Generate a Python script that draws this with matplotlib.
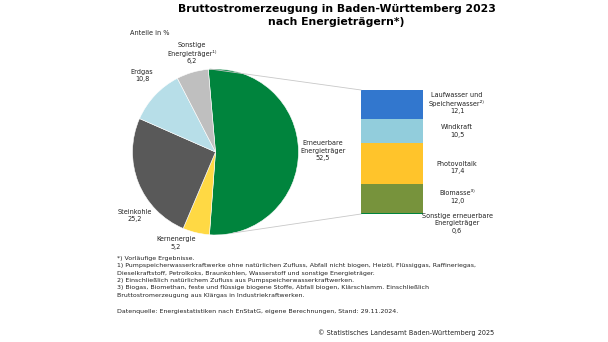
# Bruttostromerzeugung in Baden-Württemberg 2023 - Kreis mit gestapeltem Balken
import numpy as np
import matplotlib
matplotlib.use("Agg")
import matplotlib.pyplot as plt

# Daten (Anteile in %)
pieLabels = ["Erneuerbare\nEnergieträger", "Kernenergie", "Steinkohle", "Erdgas", "Sonstige\nEnergieträger\u00b9\u207e"]
pieValues = [52.5, 5.2, 25.2, 10.8, 6.2]
pieColors = ["#00843D", "#FFD944", "#595959", "#B7DEE8", "#BFBFBF"]

barLabels = ["Sonstige erneuerbare\nEnergieträger", "Biomasse\u00b3\u207e", "Photovoltaik", "Windkraft", "Laufwasser und\nSpeicherwasser\u00b2\u207e"]
barValues = [0.6, 12.0, 17.4, 10.5, 12.1]
barColors = ["#00843D", "#77933C", "#FFC42B", "#92CDDC", "#3277CE"]

footnotes = [
    "*) Vorläufige Ergebnisse.",
    "1) Pumpspeicherwasserkraftwerke ohne natürlichen Zufluss, Abfall nicht biogen, Heizöl, Flüssiggas, Raffineriegas,",
    "Dieselkraftstoff, Petrolkoks, Braunkohlen, Wasserstoff und sonstige Energieträger.",
    "2) Einschließlich natürlichem Zufluss aus Pumpspeicherwasserkraftwerken.",
    "3) Biogas, Biomethan, feste und flüssige biogene Stoffe, Abfall biogen, Klärschlamm. Einschließlich",
    "Bruttostromerzeugung aus Klärgas in Industriekraftwerken.",
]


def fmt(v):
    return ("%.1f" % v).replace(".", ",")


H = 342
fig = plt.figure(figsize=(6.08, 3.42), dpi=100)
ax = fig.add_axes([0, 0, 1, 1])

# Kreis
cx, cy, r = 215.5, H - 152, 83
ax.pie(pieValues, colors=pieColors, startangle=95, counterclock=False,
       center=(cx, cy), radius=r, frame=True,
       wedgeprops=dict(edgecolor="white", linewidth=0.4))

# gestapelter Balken fuer erneuerbare Energietraeger
barX, barW, barBase = 392, 62, H - 214
scale = 124 / sum(barValues)
bottoms = barBase + np.concatenate([[0], np.cumsum(barValues)[:-1]]) * scale
ax.bar(barX, np.array(barValues) * scale, bottom=bottoms, width=barW, color=barColors, linewidth=0)

# Verbindungslinien
barTop = barBase + sum(barValues) * scale
ax.plot([210, barX - barW / 2], [H - 69, barTop], color="#C8C8C8", lw=0.6)
ax.plot([233, barX - barW / 2], [H - 233, barBase], color="#C8C8C8", lw=0.6)

ax.set_xlim(0, 608)
ax.set_ylim(0, H)
ax.set_aspect("auto")
ax.axis("off")

fs = 4.7
txt = dict(fontsize=fs, color="#222222", ha="center", va="top", linespacing=1.3)

# Beschriftung Kreis
piePos = [(323, 140), (176, 236), (135, 209), (142, 69), (192, 42)]
for lab, val, (x, y) in zip(pieLabels, pieValues, piePos):
    ax.text(x, H - y, lab + "\n" + fmt(val), **txt)

# Beschriftung Balken
barPos = [(457, 213), (457, 190), (457, 161), (457, 124), (457, 92)]
for lab, val, (x, y) in zip(barLabels, barValues, barPos):
    ax.text(x, H - y, lab + "\n" + fmt(val), **txt)

ax.text(130, H - 33, "Anteile in %", fontsize=fs, color="#222222", ha="left", va="center")

# Titel
ax.text(336.5, H - 4, "Bruttostromerzeugung in Baden-Württemberg 2023\nnach Energieträgern*)",
        fontsize=7.8, fontweight="bold", ha="center", va="top", linespacing=1.4)

# Fussnoten
for i, line in enumerate(footnotes):
    ax.text(117, H - (258.5 + i * 7.3), line, fontsize=4.5, color="#222222", ha="left", va="center")
ax.text(117, H - 311.5, "Datenquelle: Energiestatistiken nach EnStatG, eigene Berechnungen, Stand: 29.11.2024.",
        fontsize=4.5, color="#222222", ha="left", va="center")
ax.text(494, H - 333, "© Statistisches Landesamt Baden-Württemberg 2025",
        fontsize=4.7, color="#222222", ha="right", va="center")

fig.savefig("out.png", dpi=100)
